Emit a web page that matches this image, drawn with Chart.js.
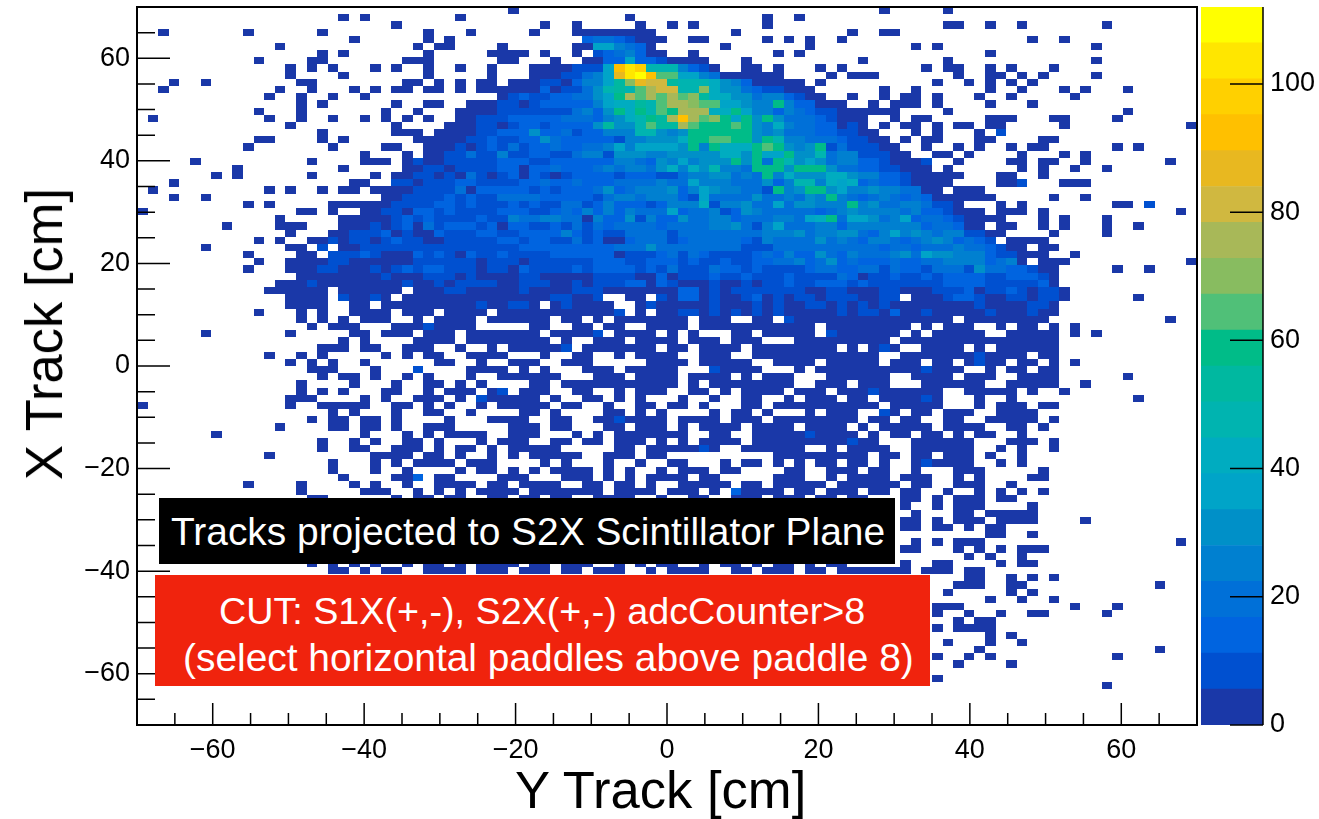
<!DOCTYPE html>
<html>
<head>
<meta charset="utf-8">
<title>X Track vs Y Track</title>
<script src="https://cdn.jsdelivr.net/npm/chart.js@4/dist/chart.umd.min.js"></script>
<style>
    html, body { margin: 0; padding: 0; background: #fff; overflow: hidden; }
    #page { position: relative; width: 1319px; height: 819px; font-family: "Liberation Sans", sans-serif; }
    #mainBox { position: absolute; left: 0; top: 0; width: 1319px; height: 819px; }
    #paletteBox { position: absolute; left: 1197px; top: 0; width: 122px; height: 819px; }
    .label { position: absolute; white-space: pre; }
    .axisTitle { font-size: 52.6px; line-height: 56px; color: #000; }
    .box { position: absolute; }
    .boxText { position: absolute; white-space: pre; font-size: 38.9px; line-height: 46px; color: #fff; }
</style>
</head>
<body>
<div id="page">
    <div id="mainBox"><canvas id="mainChart"></canvas></div>
    <div id="paletteBox"><canvas id="paletteChart"></canvas></div>
    <div class="label axisTitle" style="left:515px; top:762px;">Y Track [cm]</div>
    <div class="label axisTitle" style="left:44px; top:334px; transform: translate(-50%, -50%) rotate(-90deg);">X Track [cm]</div>
    <div class="box" style="left:159px; top:498px; width:736px; height:66px; background:#000;">
        <span class="boxText" style="left:12px; top:11px;">Tracks projected to S2X Scintillator Plane</span>
    </div>
    <div class="box" style="left:155px; top:575px; width:775px; height:111px; background:#f0230d;">
        <span class="boxText" style="left:64px; top:13px; font-size:37.7px;">CUT: S1X(+,-), S2X(+,-) adcCounter&gt;8</span>
        <span class="boxText" style="left:28px; top:60px;">(select horizontal paddles above paddle 8)</span>
    </div>
</div>
<script>
// histogram binning, 100 x 100 bins over -70..70 cm
const binCount = 100;
const axisMin = -70;
const axisMax = 70;

// palette steps of the colour bar, lowest first
const paletteColors = [
    "#1a38a8", "#0050d0", "#0064e0", "#0070d8", "#0080d0",
    "#0090c8", "#00a4c8", "#00acc0", "#00b4b0", "#00b8a0",
    "#00bc88", "#50c078", "#88bc60", "#a8b858", "#d0b840",
    "#e8b820", "#ffc000", "#ffd000", "#ffe600", "#ffff00",
];
const paletteStep = 5.6;

const xMajorTicks = [-60, -40, -20, 0, 20, 40, 60];
const xMinorTicks = [-65, -55, -50, -45, -35, -30, -25, -15, -10, -5, 5, 10, 15, 25, 30, 35, 45, 50, 55, 65];
const yMajorTicks = [-60, -40, -20, 0, 20, 40, 60];
const yMinorTicks = [-65, -55, -50, -45, -35, -30, -25, -15, -10, -5, 5, 10, 15, 25, 30, 35, 45, 50, 55, 65];
const paletteTicks = [0, 20, 40, 60, 80, 100];

// bin contents, one string per row from the top.
// "col:levels" = first column, then one palette step per bin (0-9, a-j), "." = empty
const rowsTop = [
    "35:0 70:0 76:0",
    "19:0 21:0 30:0 46:0 59:0 62:0",
    "24:0 38:0 41:0 47:0 50:0 52:0 59:0 76:00 80:0 83:0 91:0",
    "2:0 10:0 17:0 27:0 31:0 37:0 41:00000000 56:0 67:0 70:00",
    "20:0 27:0 29:0 42:23321000 52:00 59:0 61:0 63:0 66:0 84:0 87:0",
    "13:0 26:0 28:00 34:0 41:00664320 55:0 63:0 73:0 75:0 90:0",
    "17:0 19:0 27:0 33:0000 38:0 41:0 43:1234200 52:0 60:0 62:0 80:0",
    "11:0 16:00 25:000 34:00 39:0 42:00226221 50:0000 57:0 68:0 76:0 90:0",
    "14:0 16:0 18:0 22:0 24:0 27:0 30:0 33:0 37:0000111 44:6gih8884210 57:00 60:0 64:0 66:0 74:0 76:00 80:0 82:0 86:0",
    "14:0 19:0 27:0 33:0 37:00011 42:346fijgbb6643 55:0000 59:00 65:0 67:000 77:0 80:00 83:0 85:0 90:0",
    "3:0 6:0 15:00 25:00 28:0 30:0 32:00 35:00011024469cfee9888754200000 64:0 75:0 78:0 80:0 82:0 84:0",
    "2:0 13:0 16:0 20:0 22:0 24:00 27:00 30:0 32:000000201135898bdee88c7553211000 70:0 73:0 80:0 83:0 87:0 89:0 93:0",
    "12:0 15:0 18:0 21:0 34:0121122335 44:6adbdbdbc9 54:7755344210 64:0 67:0 70:0 72:00 75:0 79:0 82:0 88:0",
    "15:0 17:0 24:0 27:00 31:0001101222224677 47:98bddcbb66544a422000 69:0 71:000 75:0 80:0 84:0",
    "11:0 15:0 23:0 26:0 30:0000111111134 43:25a7a8baddd77a64424321 65:1000000 76:0 93:0",
    "1:0 12:0 15:0 18:0 21:0 23:0 25:0 27:0 30:00111222223332 44:4578a9dgdbca6a5a5 61:33321000 71:0 73:00 80:000 86:00 92:0",
    "14:0 24:0 29:00011012212222 43:59558b99dbaaaba54743322010 70:0 72:00 75:0 77:00 80:00 87:0 99:0",
    "17:0 24:000 28:000011 34:2225223122444885 50:45aaaaaa545333221100 73:0 75:0 79:0 81:1",
    "11:00 17:0 19:0 26:00000112 34:112253222221445557aabbaa5a84433321100 72:0 74:00 79:00 85:00",
    "10:0 18:0 23:00 27:0001012 34:13122322334646666 51:5a4a777aba545a1311100 74:0 77:0 79:0 82:0 84:00 92:0 94:0",
    "21:0 25:0 27:0011311 34:4112211344155544555 53:55775a66a558344 68:11100 75:00 78:0 83:0 87:0 89:0",
    "5:0 16:0 21:000 25:010011111 34:222112222224432 49:5464555a5a3a8565344 68:221000 74:1 77:0 82:00 85:00 89:0 97:0",
    "9:0 19:0 25:001101111 34:220223222343443 49:574758443a 59:aa5aaa533 68:2211000 76:0 83:0 85:0 88:0 91:0",
    "7:0 9:0 16:0 22:0 24:0011010310 34:120210122221222 49:11344 54:55343a4755 64:5775 68:4422100000 81:00 85:0",
    "3:0 20:00 24:1101112211 34:112232232223333 49:43364 54:4433352488 64:4767 68:232210000 81:001 87:000",
];
const rowsUpper = [
    "1:0 12:0 14:0 17:0 19:00 22:000011113022 34:222121222352344 49:45246 54:544331a45a 64:a564 68:45443300 77:000",
    "3:0 6:0 23:00111121211 34:333322222134434 49:44216 54:3333533435 64:4a43 68:2343232 75:000000 86:0 89:0",
    "10:0 12:0 18:000000 24:1111221211 34:121211331242221 49:24447 54:1445336355 64:444a 68:45334431 76:10 81:0 83:0 92:00 95:1",
    "0:0 15:00 18:0 21:001102212 30:1111 34:222112324242433 49:36233 54:4125433333 64:2345 68:444434 74:221000 81:000 85:0 98:0",
    "13:0 19:000001212111121 34:143344330422514 49:22533 54:4423334436 64:7a36 68:65346233 76:210000 85:0 87:0 91:0",
    "8:0 13:000 19:000101203122212 34:022112131323333 49:23333 54:4453146333 64:4424 68:444444 74:233200 81:00 85:0 87:0 91:0 94:0",
    "14:0 18:001112010021 30:11222 34:112222421211333 49:31333 54:3333344453 64:4455 68:32464543 76:441100 86:0 91:0",
    "11:0 13:0 16:00101101211 27:0011111 34:221221131200233 49:31233 54:3332143333 64:5343 68:24432345 76:42321 82:0000",
    "6:0 14:00 17:1 19:00 21:1111111111111 34:112222222223335 49:33333 54:3331113333 64:3333 68:332332333433 80:21 82:00 85:00",
    "10:0 15:00 18:11121000 26:21210211 34:211112222220111 49:23132 54:1111232422 64:5324 68:3334536 75:55444211000 88:0",
    "11:0 14:00001100000011111101 34:110111111222112 49:22121 54:1211223342 64:3523 68:2223223 75:344442340 85:000 99:0",
    "10:0 14:00011000101212 27:22111 32:01 34:102111121222212 49:13111 54:3221211112 64:3322 68:33132 73:2 74:1333153 81:32210 86:0 92:0 95:0",
    "15:00000000 23:1000111 30:0100 34:001100000111100 49:20111 54:2112111211 64:1132 68:0112112 75:1222211 82:222 85:10",
    "13:0001 17:00000000 25:1001 29:01111 34:001110010111220 49:21000 54:1001011211 64:2221 68:21111111 76:2222 80:11111 85:20",
    "12:000000 19:000000 26:00011000 34:001000011100000 49:00220 54:1011111110 64:0110 68:00110 73:00111 78:20 80:11210 85:110",
    "14:0000 19:10010 25:000000000 34:0000011001..00. 49:10220 54:1001201011 64:0111 68:0011.00 75:01 77:22100 82:1101 86:10 94:0",
    "14:0000 20:00 23:00000000010 34:0110.01000 44:0..01 49:00000 54:1000101001 64:1010 68:101 71:00000000 79:100001 85:10",
    "11:0 15:0 17:0 20:0000 25:000 29:0000 34:00000000000 45:1.0.00 51:11 53:01010101 61:00000 66:10 68:11020 73:0 74:1 75:00000 80:1000100",
    "15:0 17:0 19:0 21:000 26:0 28:0000 33:000000.00.0.0000000.000..00.1 62:000000000000000 77:.00000000 97:0",
    "16:0 18:000 24:000 27:1 28:0000 37:00..00.00..0000.00000000000.00000000.0.000..0.00.0 88:0",
    "6:0 14:0 20:00 23:000 27:000 31:000 34:0000.00001.0000.0.0...00.00000.1000000.0.00000..00000 88:0 90:0",
    "19:0 21:0 26:0000 31:000 34:00000.0..000.0000.000.000...000000000.000000000000000",
    "17:000 21:00 25:000 30:0 33:0 35:000001.0000000.00.0000.00000000.0.010..0000.0.000000",
    "12:0 15:0 17:0 23:0 25:0 27:00 31:0000...0..00..0.0000..000..000000000000..000000010000.00",
    "14:0 16:0 18:0 21:0 28:00 32:0 35:000..000.....0000.00000..0000.00000.000.00.0100.00.0 88:0",
];
const rowsLower = [
    "16:000 22:0 26:1 31:0000.0.0...000.00000...10000...0.00000000001000..0.00.00",
    "17:0 19:00 22:0 25:0 27:0 31:0 34:000000...000.0000.0000.0.000...000000..0000.000..0000 93:0",
    "15:0 20:0 24:0 27:00 30:0 32:0 37:00.00000000000.0.00000000..000.000...000000..00000 89:0",
    "15:0 17:0 19:0 23:00 27:0 29:000 33:01.000..00..0.000..00.0.0000.000.0001000000..00000.0..0",
    "14:000 21:0 23:0 26:000 30:0 32:100000.0..00.0.0...0..0..00..0.000.00.000010...0..0 94:0",
    "0:0 14:0 17:00000 24:00 27:0 29:0 32:0 34:00000.00..0..00.00.0...00.0000000000.00000...0.000.00",
    "18:0 20:0 24:0 27:00 31:0 36:00.0....00.0.0....0.00.0...0.000..10.00.000..0000",
    "16:0 18:00 21:00 24:0 29:0 33:0000..00..0010000.0000.000.00000000.00.00..00..00000 86:0",
    "13:0 18:00 21:00 24:0 27:000 35:000.00...00.000.0.0000.0000.0000.0.00000.0000..00.0",
    "7:0 21:0 25:0 27:0 29:0000 35:000...0.0.0000000..00..0000010000.0.00.00.0.00..0",
    "17:0 20:0 22:0 25:00 28:0 32:0 34:000..00.00.000.0.0.0000.0000000001 68:00...000000...000 86:0",
    "17:0 20:00 24:000 28:0 30:00 33:0 35:00000.....00.000001 54:0..000000..0.0000..000000..0.0 86:0",
    "12:0 22:0000 27:00 30:0 33:0 35:0.00000..000.00..........000000000.00.00.000.0..0",
    "18:0 22:0 24:0 26:0000 31:000 38:0.0...0..0..00...0.00.0.0.00.00.0..010000..0.0",
    "18:0 22:0 25:0 30:0 32:00.0.0.0000.0.0..0.000.00....00..000.00..0...000 85:0",
    "19:0 24:002 28:00 34:000...000.0.0.0000.00.....000..0.0000.000..0.0 84:00",
    "10:0 15:0 20:0 22:0 25:0 28:0000 33:00.0000..00.00.0..00000.00.00000.000000.00..000 82:0",
    "15:0 21:000 26:0 28:0 30:0 32:0000.0000000.0000.000.0.20000.00.000.00.00..0..0 81:0 83:0 85:0",
    "16:00 24:0 26:00 29:00 33:00 36:00 39:00 43:0000 49:0 52:00 56:000 60:000 64:00 67:00 72:00 75:0 77:000 81:00",
    "72:0 75:0 77:000 84:0",
    "73:0 77:00 80:00000",
    "72:00 75:0 77:000 81:0000 89:0",
    "72:00 75:00 78:0 80:00",
    "80:00 84:0",
    "73:0 75:0 77:000 98:0",
];
const rowsBottom = [
    "72:00 77:0 79:0 81:0 83:000",
    "78:0 80:0 83:0",
    "16:0 18:0 20:0 22:0 25:0 27:00 30:0 32:0000 37:00 40:000 45:0 47:0 49:00 53:0 55:00 58:0 60:00 63:0 65:00 72:0 75:00 81:0 83:00",
    "18:00 21:0 23:00 27:0000 32:000 36:000 40:00 43:000 48:0 50:0000 56:00 59:000 63:00 66:0000000 74:000 78:00",
    "78:00 82:0 84:0 86:0",
    "77:000 82:00 96:0",
    "76:0 82:0 84:0",
    "80:0 83:0 86:0",
    "75:000 88:0 92:0",
    "75:0 78:0 81:0 84:00 91:0",
    "77:0 79:00",
    "75:0 77:0000",
    "80:0 82:0",
    "76:0 80:0 83:0",
    "79:0 96:0",
    "75:0 78:0 80:0 92:0",
    "77:0 82:0",
    "",
    "75:0",
    "91:0",
    "",
    "",
    "",
    "",
    "",
];

// turn the rows into one {x, y, v} point per filled bin
const binSize = (axisMax - axisMin) / binCount;
const histRows = rowsTop.concat(rowsUpper, rowsLower, rowsBottom);
const histPoints = [];
histRows.forEach(function (row, r) {
    row.split(" ").forEach(function (seg) {
        if (!seg) return;
        const parts = seg.split(":");
        const start = parseInt(parts[0], 10);
        Array.from(parts[1]).forEach(function (ch, i) {
            if (ch === ".") return;
            histPoints.push({
                x: axisMin + (start + i + 0.5) * binSize,
                y: axisMax - (r + 0.5) * binSize,
                v: (parseInt(ch, 36) + 0.5) * paletteStep,
            });
        });
    });
});

// ROOT style colz cells, placed on the points chart.js computed
const cellPlugin = {
    id: "cells",
    afterDatasetsDraw(chart) {
        const ctx = chart.ctx;
        const xs = chart.scales.x;
        const ys = chart.scales.y;
        const w = Math.abs(xs.getPixelForValue(binSize) - xs.getPixelForValue(0));
        const h = Math.abs(ys.getPixelForValue(binSize) - ys.getPixelForValue(0));
        const points = chart.getDatasetMeta(0).data;
        ctx.save();
        points.forEach(function (pt, i) {
            const level = Math.floor(histPoints[i].v / paletteStep);
            const x0 = Math.round(pt.x - w / 2);
            const x1 = Math.round(pt.x + w / 2);
            const y0 = Math.round(pt.y - h / 2);
            const y1 = Math.round(pt.y + h / 2);
            ctx.fillStyle = paletteColors[level];
            ctx.fillRect(x0, y0, x1 - x0, y1 - y0);
        });
        ctx.restore();
    },
};

// inward ticks and the frame, on top of the cells
const frameTicksPlugin = {
    id: "frameTicks",
    afterDatasetsDraw(chart) {
        const ctx = chart.ctx;
        const area = chart.chartArea;
        const xs = chart.scales.x;
        const ys = chart.scales.y;
        ctx.save();
        ctx.strokeStyle = "#000";
        ctx.lineWidth = 1.5;
        ctx.beginPath();
        xMajorTicks.forEach(function (v) {
            ctx.moveTo(xs.getPixelForValue(v), area.bottom);
            ctx.lineTo(xs.getPixelForValue(v), area.bottom - 22);
        });
        xMinorTicks.forEach(function (v) {
            ctx.moveTo(xs.getPixelForValue(v), area.bottom);
            ctx.lineTo(xs.getPixelForValue(v), area.bottom - 12);
        });
        yMajorTicks.forEach(function (v) {
            ctx.moveTo(area.left, ys.getPixelForValue(v));
            ctx.lineTo(area.left + 33, ys.getPixelForValue(v));
        });
        yMinorTicks.forEach(function (v) {
            ctx.moveTo(area.left, ys.getPixelForValue(v));
            ctx.lineTo(area.left + 18, ys.getPixelForValue(v));
        });
        ctx.stroke();
        ctx.lineWidth = 2;
        ctx.strokeRect(area.left, area.top, area.right - area.left, area.bottom - area.top);
        ctx.restore();
    },
};

const paletteTicksPlugin = {
    id: "paletteTicks",
    afterDatasetsDraw(chart) {
        const ctx = chart.ctx;
        const area = chart.chartArea;
        const ys = chart.scales.y;
        ctx.save();
        ctx.strokeStyle = "#000";
        ctx.lineWidth = 1.5;
        ctx.beginPath();
        paletteTicks.forEach(function (v) {
            ctx.moveTo(area.right, ys.getPixelForValue(v));
            ctx.lineTo(area.right - 33, ys.getPixelForValue(v));
        });
        ctx.moveTo(area.right, area.top);
        ctx.lineTo(area.right, area.bottom);
        ctx.stroke();
        ctx.restore();
    },
};

function minusLabel(value) {
    return value < 0 ? "\u2212" + Math.abs(value) : String(value);
}

const tickFont = { family: "'Liberation Sans', sans-serif", size: 27 };

new Chart(document.getElementById("mainChart"), {
    type: "scatter",
    data: {
        datasets: [
            {
                data: histPoints,
                pointRadius: 0,
                pointHoverRadius: 0,
            },
        ],
    },
    options: {
        responsive: true,
        maintainAspectRatio: false,
        animation: false,
        events: [],
        layout: { padding: { top: 7, right: 122 } },
        plugins: { legend: { display: false }, tooltip: { enabled: false } },
        scales: {
            x: {
                type: "linear",
                min: axisMin,
                max: axisMax,
                grid: { display: false, drawTicks: false },
                border: { display: false },
                afterFit(scale) {
                    scale.height = 94;
                    scale.paddingLeft = 0;
                    scale.paddingRight = 0;
                },
                afterBuildTicks(scale) {
                    scale.ticks = xMajorTicks.map((v) => ({ value: v }));
                },
                ticks: {
                    color: "#000",
                    font: tickFont,
                    padding: 9,
                    autoSkip: false,
                    maxRotation: 0,
                    callback: minusLabel,
                },
            },
            y: {
                type: "linear",
                min: axisMin,
                max: axisMax,
                grid: { display: false, drawTicks: false },
                border: { display: false },
                afterFit(scale) {
                    scale.width = 137;
                    scale.paddingTop = 0;
                    scale.paddingBottom = 0;
                },
                afterBuildTicks(scale) {
                    scale.ticks = yMajorTicks.map((v) => ({ value: v }));
                },
                ticks: {
                    color: "#000",
                    font: tickFont,
                    padding: 7,
                    autoSkip: false,
                    callback: minusLabel,
                },
            },
        },
    },
    plugins: [cellPlugin, frameTicksPlugin],
});

// colour bar, one stacked bar per palette step
new Chart(document.getElementById("paletteChart"), {
    type: "bar",
    data: {
        labels: [""],
        datasets: paletteColors.map((c) => ({
            data: [paletteStep],
            backgroundColor: c,
            borderWidth: 0,
            barPercentage: 1,
            categoryPercentage: 1,
        })),
    },
    options: {
        responsive: true,
        maintainAspectRatio: false,
        animation: false,
        events: [],
        layout: { padding: { left: 4, top: 7, bottom: 94 } },
        plugins: { legend: { display: false }, tooltip: { enabled: false } },
        scales: {
            x: { stacked: true, display: false },
            y: {
                stacked: true,
                position: "right",
                min: 0,
                max: 112,
                grid: { display: false, drawTicks: false },
                border: { display: false },
                afterFit(scale) {
                    scale.width = 56;
                    scale.paddingTop = 0;
                    scale.paddingBottom = 0;
                },
                afterBuildTicks(scale) {
                    scale.ticks = paletteTicks.map((v) => ({ value: v }));
                },
                ticks: { color: "#000", font: tickFont, padding: 7, autoSkip: false },
            },
        },
    },
    plugins: [paletteTicksPlugin],
});
</script>
</body>
</html>
